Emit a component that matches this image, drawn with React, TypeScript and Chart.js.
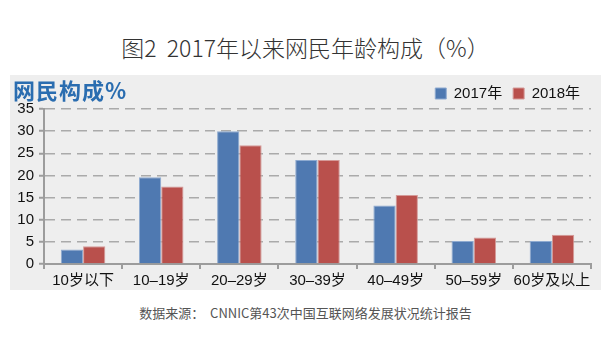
import React, { useEffect, useRef } from "react";
import { Chart, registerables } from "chart.js";

Chart.register(...registerables);

const categories = ["10岁以下", "10–19岁", "20–29岁", "30–39岁", "40–49岁", "50–59岁", "60岁及以上"];
const values2017 = [3.3, 19.6, 30.0, 23.5, 13.2, 5.2, 5.2];
const values2018 = [4.0, 17.5, 26.8, 23.5, 15.6, 6.0, 6.6];
const seriesNames = ["2017年", "2018年"];
const yTicksMax = 35;
const yStep = 5;

const chartTitle = "图2  2017年以来网民年龄构成（%）";
const panelTitle = "网民构成%";
const sourceText = "数据来源：  CNNIC第43次中国互联网络发展状况统计报告";

const FONT = "'Liberation Sans', Arial, 'Noto Sans CJK SC', sans-serif";

const legendFitPlugin = {
  id: "legendFit",
  beforeLayout(chart: any) {
    const lg = chart.legend;
    if (lg && !lg._patched) {
      const orig = lg.fit.bind(lg);
      lg.fit = function () {
        orig();
        this.height = 34;
      };
      lg._patched = true;
    }
  },
};

export default function App() {
  const ref = useRef<HTMLCanvasElement | null>(null);

  useEffect(() => {
    if (!ref.current) return;
    const chart = new Chart(ref.current, {
      type: "bar",
      data: {
        labels: categories,
        datasets: [
          {
            label: seriesNames[0],
            data: values2017,
            backgroundColor: "#4f79b1",
            borderColor: "#8eaad0",
            borderWidth: 1,
            categoryPercentage: 0.57,
            barPercentage: 1.0,
          },
          {
            label: seriesNames[1],
            data: values2018,
            backgroundColor: "#b9504c",
            borderColor: "#d49a98",
            borderWidth: 1,
            categoryPercentage: 0.57,
            barPercentage: 1.0,
          },
        ],
      },
      options: {
        responsive: false,
        animation: false,
        devicePixelRatio: 1,
        layout: { padding: { top: 0, right: 10, left: 0, bottom: 0 } },
        plugins: {
          legend: {
            display: true,
            position: "top",
            align: "end",
            labels: {
              boxWidth: 11,
              boxHeight: 11,
              padding: 11,
              color: "#111",
              font: { family: FONT, size: 15 },
            },
          },
          tooltip: { enabled: false },
          title: { display: false },
        },
        scales: {
          x: {
            afterFit: (s: any) => {
              s.height = 26;
            },
            grid: {
              display: true,
              drawOnChartArea: false,
              drawTicks: true,
              tickLength: 5,
              color: "#9c9c9c",
              lineWidth: 2,
              offset: true,
            },
            border: { display: true, color: "#9c9c9c", width: 2 },
            ticks: {
              autoSkip: false,
              maxRotation: 0,
              minRotation: 0,
              padding: 3,
              color: "#111",
              font: { family: FONT, size: 15 },
            },
          },
          y: {
            min: 0,
            max: yTicksMax,
            afterFit: (s: any) => {
              s.width = 34;
            },
            grid: {
              display: true,
              drawTicks: true,
              tickLength: 5,
              color: "#aaaaaa",
              lineWidth: 1.5,
              tickColor: "#9c9c9c",
              tickWidth: 2,
              tickBorderDash: [],
            } as any,
            border: { display: true, color: "#9c9c9c", width: 2, dash: [10, 6] },
            ticks: {
              stepSize: yStep,
              padding: 5,
              color: "#111",
              font: { family: FONT, size: 15 },
            },
          },
        },
      },
      plugins: [legendFitPlugin],
    });
    return () => chart.destroy();
  }, []);

  return (
    <div
      style={{
        position: "absolute",
        left: 0,
        top: 0,
        width: 611,
        height: 354,
        background: "#fff",
        overflow: "hidden",
      }}
    >
      <div
        style={{
          position: "absolute",
          left: 0,
          width: 611,
          top: 32,
          textAlign: "center",
          fontFamily: "'Noto Sans CJK SC', sans-serif",
          fontWeight: 300,
          fontSize: 23,
          lineHeight: "30px",
          color: "#333",
          whiteSpace: "pre",
        }}
      >
        {chartTitle}
      </div>
      <div
        style={{
          position: "absolute",
          left: 10,
          top: 75,
          width: 591,
          height: 215,
          background: "#eeeeee",
        }}
      >
        <canvas ref={ref} width={591} height={215} style={{ display: "block", width: 591, height: 215 }} />
        <div
          style={{
            position: "absolute",
            left: 3,
            top: 0,
            fontFamily: "'Noto Sans CJK SC', sans-serif",
            fontWeight: 700,
            fontSize: 22,
            lineHeight: "28px",
            letterSpacing: 1,
            color: "#2a6db0",
          }}
        >
          {panelTitle}
        </div>
      </div>
      <div
        style={{
          position: "absolute",
          left: 0,
          width: 611,
          top: 304,
          textAlign: "center",
          fontFamily: "'Noto Sans CJK SC', sans-serif",
          fontSize: 13,
          lineHeight: "18px",
          color: "#555",
          whiteSpace: "pre",
        }}
      >
        {sourceText}
      </div>
    </div>
  );
}
